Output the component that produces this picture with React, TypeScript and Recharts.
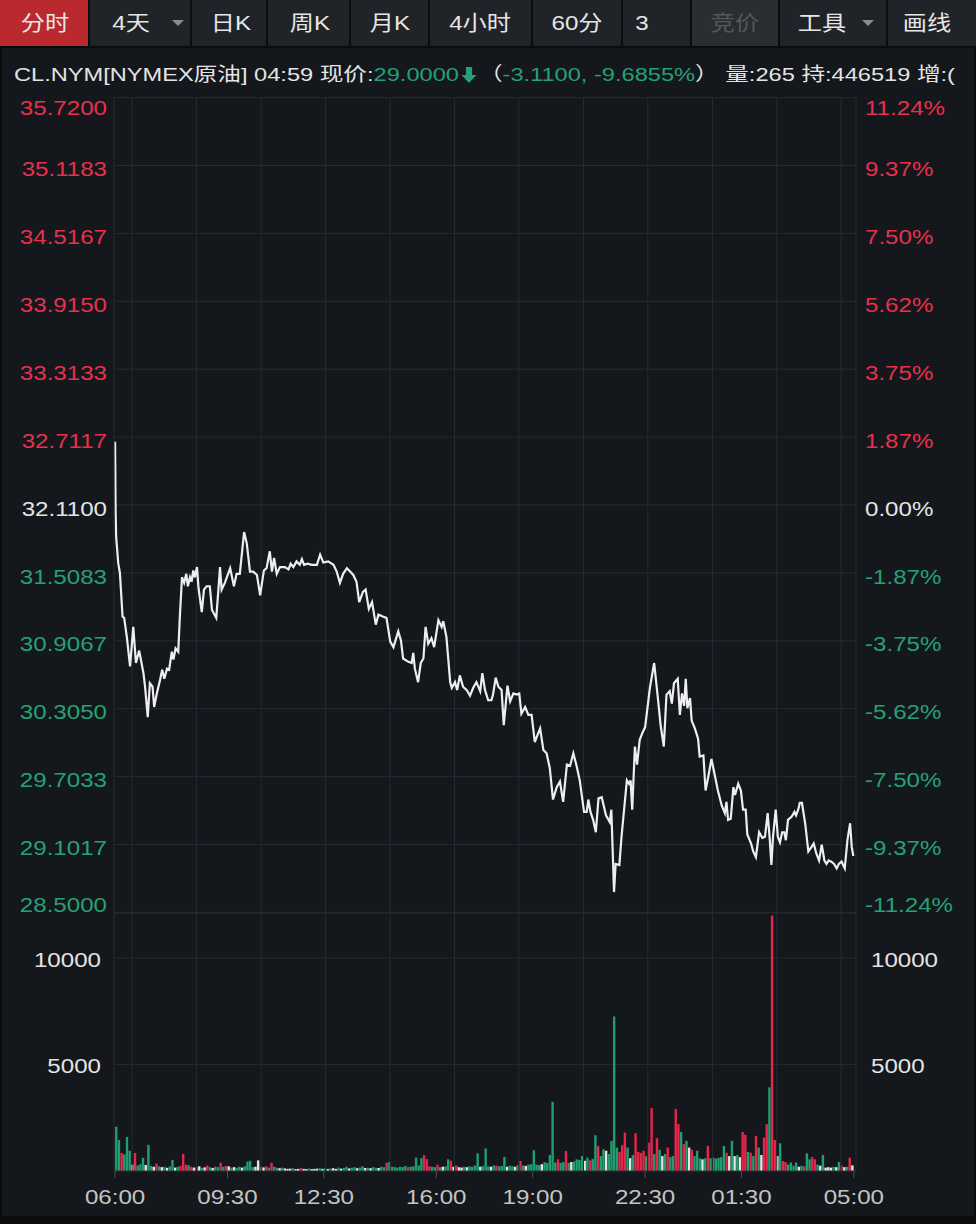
import React from 'react';
import { LineChart, Line, XAxis, YAxis, CartesianGrid, ReferenceLine, BarChart, Bar, Cell } from 'recharts';

// ---------- data ----------
// minutes after 06:00
const priceMinutes = [
  0, 1, 2, 6, 9, 14, 17, 22, 28, 34, 39, 45, 53, 56, 61, 65, 70, 73, 78, 84, 88, 92, 97, 101, 106, 109, 113, 118,
  121, 125, 129, 133, 136, 140, 143, 146, 149, 153, 156, 162, 166, 171, 177, 181, 189, 193, 196, 199, 205, 215,
  222, 227, 233, 241, 246, 252, 258, 265, 271, 278, 283, 289, 293, 297, 302, 308, 317, 324, 328, 333, 339, 345,
  349, 353, 360, 367, 377, 383, 389, 398, 408, 414, 420, 426, 433, 439, 445, 451, 456, 463, 468, 474, 480, 487,
  492, 501, 507, 514, 520, 529, 534, 538, 548, 554, 557, 560, 566, 571, 576, 580, 585, 591, 596, 604, 610, 613,
  619, 626, 629, 635, 639, 644, 650, 657, 663, 669, 675, 682, 686, 691, 697, 703, 706, 711, 716, 722, 726, 733,
  738, 744, 750, 755, 759, 766, 772, 778, 784, 794, 800, 806, 812, 818, 825, 831, 837, 844, 850, 856, 862, 868,
  876, 881, 884, 888, 893, 898, 903, 909, 917, 924, 927, 932, 935, 942, 946, 956, 960, 963, 966, 971, 975, 980,
  985, 990, 999, 1007, 1015, 1019, 1025, 1030, 1036, 1040, 1044, 1051, 1055, 1059, 1063, 1066, 1069, 1074, 1077,
  1083, 1089, 1092, 1099, 1103, 1108, 1114, 1120, 1126, 1133, 1139, 1142, 1145, 1150, 1155, 1158, 1164, 1169,
  1173, 1178, 1181, 1188, 1192, 1197, 1203, 1209, 1214, 1219, 1223, 1226, 1229, 1234, 1238, 1242, 1246, 1250,
  1253, 1257, 1264, 1269, 1272, 1276, 1279, 1283, 1289, 1295, 1301, 1305, 1310, 1315, 1320, 1325, 1329, 1333,
  1338, 1343, 1348, 1352, 1357, 1363, 1368, 1373, 1376, 1379,
];
const priceValues = [
  32.67, 32.05, 31.83, 31.59, 31.51, 31.12, 31.11, 30.94, 30.68, 31.03, 30.71, 30.82, 30.62, 30.5, 30.23, 30.53,
  30.5, 30.32, 30.44, 30.56, 30.65, 30.57, 30.66, 30.65, 30.81, 30.74, 30.84, 30.81,
  31.12, 31.47, 31.42, 31.5, 31.39, 31.47, 31.43, 31.53, 31.47, 31.56, 31.37, 31.16, 31.36, 31.39, 31.39, 31.18,
  31.11, 31.36, 31.56, 31.36, 31.42, 31.55,
  31.39, 31.5, 31.5, 31.87, 31.77, 31.52, 31.52, 31.49, 31.31, 31.53, 31.55, 31.7, 31.52, 31.64, 31.5, 31.56,
  31.56, 31.54, 31.59, 31.56, 31.61, 31.58,
  31.63, 31.58, 31.59, 31.58, 31.58, 31.67, 31.6, 31.61, 31.58, 31.52, 31.42, 31.5, 31.55, 31.52, 31.49, 31.43,
  31.25, 31.34, 31.36, 31.19, 31.25, 31.05,
  31.14, 31.12, 31.11, 30.9, 30.85, 30.99, 30.91, 30.75, 30.72, 30.71, 30.8, 30.66, 30.54, 30.71, 30.75, 31.03,
  30.88, 30.93, 30.85, 31.09, 31.03, 31.08,
  30.94, 30.54, 30.49, 30.54, 30.47, 30.6, 30.5, 30.47, 30.42, 30.49, 30.54, 30.46, 30.62, 30.47, 30.38, 30.38,
  30.43, 30.58, 30.5, 30.47, 30.16, 30.51,
  30.37, 30.44, 30.43, 30.44, 30.26, 30.32, 30.25, 30.25, 30.01, 30.13, 29.94, 29.91, 29.78, 29.5, 29.61, 29.66,
  29.48, 29.81, 29.8, 29.91, 29.8, 29.67,
  29.39, 29.39, 29.5, 29.39, 29.32, 29.21, 29.51, 29.52, 29.36, 29.3, 29.41, 28.68, 28.93, 28.92, 29.17, 29.67,
  29.64, 29.67, 29.41, 29.97, 29.81, 30.03,
  30.09, 30.14, 30.49, 30.71, 30.35, 30.16, 29.97, 30.43, 30.46, 30.35, 30.53, 30.57, 30.25, 30.44, 30.33, 30.57,
  30.31, 30.4, 30.2,
  30.13, 30.04, 29.88, 29.89, 29.58, 29.7, 29.86, 29.72, 29.58, 29.45, 29.38, 29.48, 29.32, 29.33, 29.61, 29.54,
  29.64, 29.58,
  29.41, 29.41, 29.19, 29.11, 29.04, 28.99, 29.21, 29.16, 29.17, 29.38, 29.14, 28.92, 29.17, 29.41, 29.17, 29.12,
  29.21, 29.21,
  29.14, 29.32, 29.35, 29.39, 29.36, 29.41, 29.47, 29.47, 29.29, 29.04, 29.08, 29.11, 29.02, 28.96, 29.1, 28.96,
  28.93, 28.96,
  28.95, 28.93, 28.89, 28.93, 28.95, 28.89, 29.14, 29.29, 29.08, 29.0,
];

// 5-minute volume buckets starting 06:00
const volumeValues = [
  2075, 1460, 850, 780, 1600, 950, 300, 850, 260, 320,
  620, 280, 1230, 240, 200, 350, 220, 180, 200, 150,
  220, 520, 160, 200, 240, 800, 300, 280, 200, 160,
  180, 220, 150, 170, 260, 180, 140, 200, 180, 390,
  200, 240, 220, 160, 180, 150, 200, 160, 220, 440,
  480, 180, 200, 500, 200, 170, 220, 160, 390, 200,
  150, 130, 160, 120, 100, 110, 130, 90, 100, 150,
  100, 90, 120, 90, 100, 110, 130, 100, 140, 90,
  120, 130, 100, 160, 110, 140, 200, 120, 150, 180,
  130, 160, 220, 140, 150, 130, 180, 150, 140, 200,
  180, 390, 420, 200, 180, 160, 200, 180, 240, 180,
  200, 220, 630, 260, 600, 740, 560, 220, 200, 180,
  300, 180, 200, 220, 550, 480, 200, 260, 180, 160,
  200, 180, 220, 200, 260, 830, 200, 240, 1060, 220,
  200, 260, 250, 220, 240, 660, 200, 250, 220, 200,
  280, 470, 260, 240, 300, 320, 975, 300, 280, 320,
  420, 380, 755, 3250, 400, 550, 380, 420, 940, 380,
  420, 450, 550, 520, 700, 480, 630, 500, 560, 1680,
  1180, 700, 1020, 950, 800, 1415, 7260, 1100, 900, 1210,
  1810, 1100, 600, 750, 1775, 900, 850, 950, 700, 1335,
  2955, 800, 1540, 1000, 700, 800, 1100, 650, 700, 2910,
  2200, 1840, 1260, 1415, 1100, 1000, 700, 950, 600, 550,
  600, 1180, 600, 630, 580, 620, 650, 1180, 860, 700,
  1415, 700, 750, 650, 1840, 1700, 900, 860, 700, 1650,
  1100, 750, 1570, 2200, 3930, 12000, 1460, 700, 1300, 470,
  420, 300, 400, 250, 400, 200, 250, 220, 830, 550,
  660, 550, 300, 250, 755, 160, 180, 160, 200, 180,
  425, 250, 180, 200, 630, 265,
];
// g = down (green), r = up (red), w = flat (white)
const volumeDirs =
  'ggrgggwrgg' + 'gwggwrgwgw' + 'ggwgrrrgrw' + 'gwgwrgwggr' + 'grwgwggwgg' +
  'ggwwgwrgrg' + 'gwgwwwgwwr' + 'wwgwwwgwgw' + 'gwwgwggwgg' + 'wggwgwggwg' +
  'grgggggggr' + 'gggggrrrgg' + 'rgwggrwrww' + 'gwggggwggg' + 'wgrgggwggw' +
  'grgwgggggw' + 'gggggrggrg' + 'wggggwgrgg' + 'rggwggggrr' + 'rgwgrrrrgr' +
  'rgrgwgrggr' + 'rgrgwrgggw' + 'grggggggrw' + 'gwgwrrgrgr' + 'gwrrgrrwgr' +
  'rggggwgrgg' + 'rrgwgwwwgw' + 'grwgrw';

const gridMinutes = [32, 152, 273, 393, 514, 634, 754, 875, 995, 1116, 1236, 1356];

const priceTicks = [35.72, 35.1183, 34.5167, 33.915, 33.3133, 32.7117, 32.11, 31.5083, 30.9067, 30.305, 29.7033, 29.1017, 28.5];
const priceTickLabels = ['35.7200', '35.1183', '34.5167', '33.9150', '33.3133', '32.7117', '32.1100', '31.5083', '30.9067', '30.3050', '29.7033', '29.1017', '28.5000'];
const pctTickLabels = ['11.24%', '9.37%', '7.50%', '5.62%', '3.75%', '1.87%', '0.00%', '-1.87%', '-3.75%', '-5.62%', '-7.50%', '-9.37%', '-11.24%'];

const volumeTicks = [5000, 10000];
const volumeTickLabels = ['5000', '10000'];

const timeTicks = [0, 210, 390, 600, 780, 990, 1170, 1380];
const timeLabels = ['06:00', '09:30', '12:30', '16:00', '19:00', '22:30', '01:30', '05:00'];

const toolbarItems = [
  { label: '分时', left: 0, width: 88, cx: 45, active: true },
  { label: '4天', left: 90, width: 100, cx: 131, arrow: 178 },
  { label: '日K', left: 192, width: 74, cx: 231 },
  { label: '周K', left: 268, width: 81, cx: 310 },
  { label: '月K', left: 351, width: 77, cx: 390 },
  { label: '4小时', left: 430, width: 101, cx: 480 },
  { label: '60分', left: 533, width: 88, cx: 577 },
  { label: '3', left: 623, width: 67, cx: 642 },
  { label: '竞价', left: 692, width: 86, cx: 735, dim: true },
  { label: '工具', left: 780, width: 106, cx: 822, arrow: 868 },
  { label: '画线', left: 888, width: 88, cx: 927 },
];

// ---------- style ----------
const FONT = "'Liberation Sans', Arial, 'Noto Sans CJK SC', sans-serif";
const SX = 1.25;
const BG = '#14171b';
const GRID = '#272b31';
const RED = '#e8304d';
const GREEN = '#24a176';
const WHITE = '#e4e4e4';
const BAR_GREEN = '#1f9e70';
const BAR_RED = '#e6264b';
const BAR_WHITE = '#e6e6e6';

const priceData = priceMinutes.map((t, i) => ({ t, p: priceValues[i] }));
const volumeData = volumeValues.map((v, i) => ({ t: i * 5 + 2.5, v, d: volumeDirs[i] }));

const labelColor = (i: number) => (i < 6 ? RED : i === 6 ? WHITE : GREEN);
const labelDy = (i: number) => (i === 0 ? 11 : i === priceTicks.length - 1 ? -7 : 4);

const LeftPriceTick = (props: any) => {
  const { x, y, payload } = props;
  const i = priceTicks.indexOf(payload.value);
  return (
    <text transform={`translate(${x} ${y + labelDy(i)}) scale(${SX} 1)`} x={0} y={0} textAnchor="end"
      dominantBaseline="central" fontSize={19.3} fontFamily={FONT} fill={labelColor(i)}>
      {priceTickLabels[i]}
    </text>
  );
};
const RightPriceTick = (props: any) => {
  const { x, y, payload } = props;
  const i = priceTicks.indexOf(payload.value);
  return (
    <text transform={`translate(${x} ${y + labelDy(i)}) scale(${SX} 1)`} x={0} y={0} textAnchor="start"
      dominantBaseline="central" fontSize={19.3} fontFamily={FONT} fill={labelColor(i)}>
      {pctTickLabels[i]}
    </text>
  );
};
const VolTick = (anchor: 'start' | 'end') => (props: any) => {
  const { x, y, payload } = props;
  const i = volumeTicks.indexOf(payload.value);
  return (
    <text transform={`translate(${x} ${y + 2}) scale(${SX} 1)`} x={0} y={0} textAnchor={anchor}
      dominantBaseline="central" fontSize={19.3} fontFamily={FONT} fill={WHITE}>
      {volumeTickLabels[i]}
    </text>
  );
};
const TimeTick = (props: any) => {
  const { x, y, payload } = props;
  const i = timeTicks.indexOf(payload.value);
  return (
    <text transform={`translate(${x} ${y + 19}) scale(${SX} 1)`} x={0} y={0} textAnchor="middle"
      dominantBaseline="central" fontSize={19.3} fontFamily={FONT} fill="#c4c4c4">
      {timeLabels[i]}
    </text>
  );
};

const Stretch = ({ children, style }: any) => (
  <span style={{ display: 'inline-block', transform: `scaleX(${SX})`, transformOrigin: 'left center', whiteSpace: 'nowrap', ...style }}>
    {children}
  </span>
);

const DownArrow = () => (
  <svg width={12} height={16} viewBox="0 0 12 16" style={{ verticalAlign: '-2px', margin: '0 2px 0 2px' }}>
    <polygon points="3.5,0 8.5,0 8.5,8 12,8 6,16 0,8 3.5,8" fill={GREEN} />
  </svg>
);

export default function App() {
  return (
    <div style={{ position: 'absolute', left: 0, top: 0, width: 976, height: 1224, background: '#0b0c0e', overflow: 'hidden', fontFamily: FONT }}>
      {/* toolbar */}
      {toolbarItems.map((b) => (
        <div key={b.label} style={{ position: 'absolute', left: b.left, top: 0, width: b.width, height: 46,
          background: b.active ? '#b9292e' : b.dim ? '#2a2d31' : '#202328' }} />
      ))}
      {toolbarItems.map((b) => (
        <div key={'t' + b.label} style={{ position: 'absolute', left: b.cx, top: 0, height: 46, lineHeight: '46px',
          fontSize: 21, color: b.dim ? '#54575c' : '#e6e6e6', transform: 'translateX(-50%)', whiteSpace: 'nowrap' }}>
          <span style={{ display: 'inline-block', transform: `scaleX(1.15)` }}>{b.label}</span>
        </div>
      ))}
      {toolbarItems.filter((b) => b.arrow).map((b) => (
        <div key={'a' + b.label} style={{ position: 'absolute', left: (b.arrow as number) - 6, top: 20, width: 0, height: 0,
          borderLeft: '6px solid transparent', borderRight: '6px solid transparent', borderTop: '6px solid #8a8c90' }} />
      ))}

      {/* header + chart background */}
      <div style={{ position: 'absolute', left: 2, top: 48, width: 972, height: 1168, background: BG }} />
      <div style={{ position: 'absolute', left: 14, top: 60, height: 30, lineHeight: '30px', fontSize: 18.9, color: WHITE }}>
        <Stretch>
          CL.NYM[NYMEX原油] 04:59 现价:<span style={{ color: GREEN }}>29.0000</span>
          <DownArrow />
          （<span style={{ color: GREEN }}>-3.1100, -9.6855%</span>） 量:265 持:446519 增:(
        </Stretch>
      </div>

      {/* price panel */}
      <div style={{ position: 'absolute', left: 0, top: 88 }}>
        <LineChart width={976} height={836} data={priceData} margin={{ top: 9.6, right: 0, bottom: 11.6, left: 0 }}>
          <CartesianGrid yAxisId="l" vertical={false} stroke={GRID} strokeWidth={1} />
          <XAxis dataKey="t" type="number" domain={[-2, 1384]} allowDataOverflow hide />
          <YAxis yAxisId="l" orientation="left" width={114} domain={[28.5, 35.72]} ticks={priceTicks} interval={0}
            allowDataOverflow tickSize={0} tickMargin={7} tickLine={false} axisLine={{ stroke: GRID }} tick={<LeftPriceTick />} />
          <YAxis yAxisId="r" orientation="right" width={120} domain={[28.5, 35.72]} ticks={priceTicks} interval={0}
            allowDataOverflow tickSize={0} tickMargin={9} tickLine={false} axisLine={{ stroke: GRID }} tick={<RightPriceTick />} />
          {gridMinutes.map((m) => (
            <ReferenceLine key={m} x={m} yAxisId="l" stroke={GRID} strokeWidth={1} />
          ))}
          <Line yAxisId="l" type="linear" dataKey="p" stroke="#eeeeee" strokeWidth={2.2} dot={false} isAnimationActive={false} />
        </LineChart>
      </div>

      {/* volume panel */}
      <div style={{ position: 'absolute', left: 0, top: 900 }}>
        <BarChart width={976} height={316} data={volumeData} margin={{ top: 13, right: 0, bottom: 5, left: 0 }} barCategoryGap={0}>
          <CartesianGrid yAxisId="l" vertical={false} stroke={GRID} strokeWidth={1} />
          <XAxis dataKey="t" type="number" domain={[-2, 1384]} ticks={timeTicks} interval={0} allowDataOverflow height={40}
            tickSize={7} tickMargin={0} tickLine={{ stroke: '#4a4d52' }} axisLine={{ stroke: GRID }} tick={<TimeTick />} />
          <YAxis yAxisId="l" orientation="left" width={114} domain={[0, 12120]} ticks={volumeTicks} interval={0}
            allowDataOverflow tickSize={0} tickMargin={13} tickLine={false} axisLine={{ stroke: GRID }} tick={VolTick('end')} />
          <YAxis yAxisId="r" orientation="right" width={120} domain={[0, 12120]} ticks={volumeTicks} interval={0}
            allowDataOverflow tickSize={0} tickMargin={15} tickLine={false} axisLine={{ stroke: GRID }} tick={VolTick('start')} />
          {gridMinutes.map((m) => (
            <ReferenceLine key={m} x={m} yAxisId="l" stroke={GRID} strokeWidth={1} />
          ))}
          <Bar yAxisId="l" dataKey="v" barSize={2.7} isAnimationActive={false}>
            {volumeData.map((d, i) => (
              <Cell key={i} fill={d.d === 'r' ? BAR_RED : d.d === 'w' ? BAR_WHITE : BAR_GREEN} />
            ))}
          </Bar>
        </BarChart>
      </div>
    </div>
  );
}
